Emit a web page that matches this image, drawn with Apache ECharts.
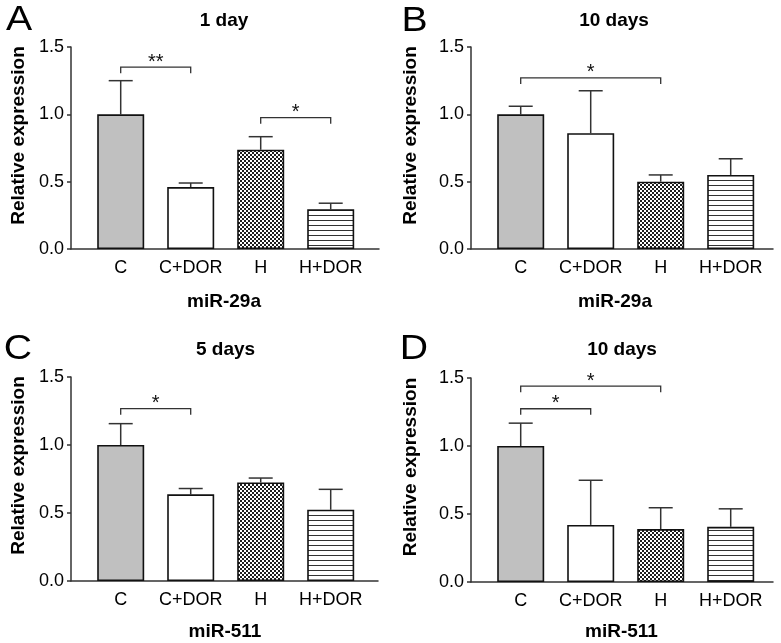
<!DOCTYPE html>
<html><head><meta charset="utf-8">
<script src="https://cdn.jsdelivr.net/npm/echarts@6/dist/echarts.min.js"></script>
<style>html,body{margin:0;padding:0;background:#fff}#c{width:781px;height:643px}</style>
</head><body><div id="c"></div>
<script>
// ---- data ----
const categories = ['C', 'C+DOR', 'H', 'H+DOR'];
const panelLetters = ['A', 'B', 'C', 'D'];
const panelTitles = ['1 day', '10 days', '5 days', '10 days'];
const geneLabels = ['miR-29a', 'miR-29a', 'miR-511', 'miR-511'];
const yAxisTitle = 'Relative expression';
const yTickValues = [0, 0.5, 1.0, 1.5];

const meansA = [1.00, 0.46, 0.737, 0.295];
const errsA  = [0.25, 0.03, 0.097, 0.045];
const meansB = [1.00, 0.86, 0.50, 0.55];
const errsB  = [0.06, 0.315, 0.05, 0.12];
const meansC = [1.00, 0.637, 0.725, 0.524];
const errsC  = [0.157, 0.043, 0.032, 0.15];
const meansD = [1.00, 0.42, 0.389, 0.406];
const errsD  = [0.168, 0.328, 0.157, 0.132];

// significance brackets: [fromIndex, toIndex, height, label]
const bracketsA = [[0, 1, 1.35, '**'], [2, 3, 0.975, '*']];
const bracketsB = [[0, 2, 1.27, '*']];
const bracketsC = [[0, 1, 1.267, '*']];
const bracketsD = [[0, 2, 1.44, '*'], [0, 1, 1.274, '*']];

// ---- styling / layout ----
const FONT = '"Liberation Sans", Arial, sans-serif';
const panels = [
  {means: meansA, errs: errsA, brackets: bracketsA},
  {means: meansB, errs: errsB, brackets: bracketsB},
  {means: meansC, errs: errsC, brackets: bracketsC},
  {means: meansD, errs: errsD, brackets: bracketsD}
];
const grids = [
  {left: 71, top: 47, width: 308, height: 202},
  {left: 471, top: 47, width: 302, height: 202},
  {left: 71, top: 377, width: 307, height: 204},
  {left: 471, top: 378, width: 302, height: 204}
];
const PX_PER_CAT = 70, X_MIN = -0.71;
const titlePos  = [[224, 20.5], [614, 20.5], [225.5, 350], [622, 350]];
const xlabelPos = [[224, 301.5], [615, 301.5], [225, 632], [621.5, 632]];
const ylabelPos = [[18.5, 135.5], [410.5, 135.5], [18.5, 465.5], [410.5, 467]];
const letterPos = [[19, 20.5], [414.5, 21.5], [18, 349], [414, 349]];

function crossPattern() {
  const c = document.createElement('canvas'); c.width = 4; c.height = 4;
  const g = c.getContext('2d');
  g.fillStyle = '#ffffff'; g.fillRect(0, 0, 4, 4);
  g.fillStyle = '#1e1e1e'; g.fillRect(0, 0, 2, 2); g.fillRect(2, 2, 2, 2);
  return c;
}
function linePattern() {
  const c = document.createElement('canvas'); c.width = 8; c.height = 5;
  const g = c.getContext('2d');
  g.fillStyle = '#ffffff'; g.fillRect(0, 0, 8, 5);
  g.fillStyle = '#333333'; g.fillRect(0, 0, 8, 1);
  return c;
}
const fills = ['#c0c0c0', '#ffffff', {image: crossPattern(), repeat: 'repeat'}, {image: linePattern(), repeat: 'repeat'}];

const option = {
  animation: false,
  backgroundColor: '#ffffff',
  grid: grids.map(g => Object.assign({containLabel: false}, g)),
  xAxis: grids.map((g, i) => ({
    type: 'value', gridIndex: i,
    min: X_MIN, max: X_MIN + g.width / PX_PER_CAT,
    splitLine: {show: false},
    axisTick: {show: false},
    axisLine: {show: true, onZero: false, lineStyle: {color: '#333', width: 1.5}},
    axisLabel: {
      show: true, customValues: [0, 1, 2, 3], margin: 10,
      color: '#000', fontSize: 18, fontFamily: FONT,
      formatter: v => categories[Math.round(v)] || ''
    }
  })),
  yAxis: grids.map((g, i) => ({
    type: 'value', gridIndex: i, min: 0, max: 1.5, interval: 0.5,
    splitLine: {show: false},
    axisLine: {show: true, onZero: false, lineStyle: {color: '#333', width: 1.5}},
    axisTick: {show: true, length: 4, lineStyle: {color: '#333', width: 1.5}},
    axisLabel: {
      margin: 7, color: '#000', fontSize: 18, fontFamily: FONT,
      customValues: yTickValues,
      formatter: v => v.toFixed(1)
    }
  })),
  series: [],
  graphic: []
};

panels.forEach((p, i) => {
  option.series.push({
    type: 'custom', xAxisIndex: i, yAxisIndex: i, z: 1, silent: true,
    data: p.means.map((m, k) => [k, m, m + p.errs[k]]),
    renderItem: (params, api) => {
      const a = api.coord([api.value(0), api.value(1)]);
      const b = api.coord([api.value(0), api.value(2)]);
      return {type: 'group', children: [
        {type: 'line', shape: {x1: a[0], y1: a[1], x2: b[0], y2: b[1]}, style: {stroke: '#333', lineWidth: 1.5}},
        {type: 'line', shape: {x1: b[0] - 12, y1: b[1], x2: b[0] + 12, y2: b[1]}, style: {stroke: '#333', lineWidth: 1.5}}
      ]};
    }
  });
  option.series.push({
    type: 'bar', xAxisIndex: i, yAxisIndex: i, z: 2, silent: true,
    barWidth: 47,
    itemStyle: {borderColor: '#111', borderWidth: 1.6},
    data: p.means.map((m, k) => ({value: [k, m], itemStyle: {color: fills[k]}}))
  });
  option.series.push({
    type: 'custom', xAxisIndex: i, yAxisIndex: i, z: 3, silent: true,
    data: p.brackets.map(b => [b[0], b[1], b[2]]),
    renderItem: (params, api) => {
      const x1 = api.value(0), x2 = api.value(1), h = api.value(2);
      const L = api.coord([x1, h]), R = api.coord([x2, h]);
      const d = api.coord([x1, h - 0.045]);
      const label = p.brackets[params.dataIndex][3];
      return {type: 'group', children: [
        {type: 'polyline', shape: {points: [[L[0], d[1]], [L[0], L[1]], [R[0], R[1]], [R[0], d[1]]]},
         style: {stroke: '#333', lineWidth: 1.3, fill: null}},
        {type: 'text', x: (L[0] + R[0]) / 2, y: L[1] - 5,
         style: {text: label, font: '20px ' + FONT, fill: '#111', align: 'center', verticalAlign: 'middle'}}
      ]};
    }
  });

  option.graphic.push(
    {type: 'text', x: letterPos[i][0], y: letterPos[i][1], scaleX: 1.12,
     style: {text: panelLetters[i], font: '35px ' + FONT, fill: '#000', align: 'center', verticalAlign: 'middle', textAlign: 'center', textVerticalAlign: 'middle'}},
    {type: 'text', x: titlePos[i][0], y: titlePos[i][1],
     style: {text: panelTitles[i], font: 'bold 19px ' + FONT, fill: '#000', align: 'center', verticalAlign: 'middle', textAlign: 'center', textVerticalAlign: 'middle'}},
    {type: 'text', x: xlabelPos[i][0], y: xlabelPos[i][1],
     style: {text: geneLabels[i], font: 'bold 19px ' + FONT, fill: '#000', align: 'center', verticalAlign: 'middle', textAlign: 'center', textVerticalAlign: 'middle'}},
    {type: 'text', x: ylabelPos[i][0], y: ylabelPos[i][1], rotation: Math.PI / 2,
     style: {text: yAxisTitle, font: 'bold 19px ' + FONT, fill: '#000', align: 'center', verticalAlign: 'middle', textAlign: 'center', textVerticalAlign: 'middle'}}
  );
});

const chart = echarts.init(document.getElementById('c'));
chart.setOption(option);
</script>
</body></html>
